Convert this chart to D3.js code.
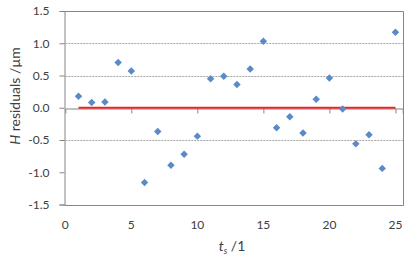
<!DOCTYPE html>
<html>
<head>
<meta charset="utf-8">
<script src="https://cdn.jsdelivr.net/npm/d3@7"></script>
<style>
  body { margin: 0; background: #fff; }
  text { font-family: Lato, "Open Sans", sans-serif; fill: #404040; }
</style>
</head>
<body>
<div id="chart"></div>
<script>
// measured residuals
var steps = [1, 2, 3, 4, 5, 6, 7, 8, 9, 10, 11, 12, 13, 14, 15, 16, 17, 18, 19, 20, 21, 22, 23, 24, 25];
var residuals = [0.18, 0.08, 0.09, 0.70, 0.57, -1.16, -0.37, -0.89, -0.72, -0.44, 0.45, 0.49, 0.36, 0.60, 1.03,
                 -0.31, -0.14, -0.39, 0.13, 0.46, -0.02, -0.56, -0.42, -0.94, 1.17];
var xTicks = [0, 5, 10, 15, 20, 25];
var yTicks = [-1.5, -1.0, -0.5, 0.0, 0.5, 1.0, 1.5];
var gridTicks = [1.0, 0.5, -0.5];
var zeroLine = [1, 25];

var W = 420, H = 258;
var svg = d3.select("#chart").append("svg")
    .attr("width", W)
    .attr("height", H);

var x = d3.scaleLinear().domain([0, 25.55]).range([65.3, 402.7]);
var y = d3.scaleLinear().domain([-1.5, 1.5]).range([204.5, 11]);

var axisColor = "#868686";

// gridlines
svg.selectAll(".grid")
    .data(gridTicks)
    .enter()
    .append("line")
    .attr("x1", x(0))
    .attr("x2", x(25.55))
    .attr("y1", function(d) { return Math.round(y(d)) + 0.5; })
    .attr("y2", function(d) { return Math.round(y(d)) + 0.5; })
    .style("stroke", "#a6a6a6")
    .style("stroke-width", "1px")
    .style("stroke-dasharray", "2,1");

// frame (top, right, bottom)
var x0 = Math.round(x(0)) - 0.5, x1 = Math.round(x(25.55)) + 0.5;
var yTop = Math.round(y(1.5)) + 0.5, yBot = Math.round(y(-1.5)) + 0.5;
svg.append("path")
    .attr("d", "M" + x0 + "," + yTop + "H" + x1 + "V" + yBot + "H" + x0)
    .style("fill", "none")
    .style("stroke", axisColor)
    .style("stroke-width", "1px");

// y axis
var yAxis = svg.append("g")
    .attr("transform", "translate(" + x0 + ",0)")
    .call(d3.axisLeft(y).tickValues(yTicks).tickSize(5).tickPadding(10)
        .tickFormat(d3.format(".1f")));
yAxis.select(".domain").style("stroke", axisColor);
yAxis.selectAll(".tick line").style("stroke", axisColor);
yAxis.selectAll(".tick text")
    .text(function(d) { return d3.format(".1f")(d).replace("−", "-"); })
    .style("font-size", "12px")
    .style("font-family", "Lato, sans-serif")
    .attr("fill", "#404040");

// x axis sits on y = 0
var yZero = Math.round(y(0)) + 0.5;
var xAxis = svg.append("g")
    .attr("transform", "translate(0," + yZero + ")")
    .call(d3.axisBottom(x).tickValues(xTicks.slice(1)).tickSize(5).tickFormat(""));
xAxis.select(".domain").style("stroke", axisColor);
xAxis.selectAll(".tick line").style("stroke", axisColor);

// x tick labels at bottom
svg.selectAll(".xlab")
    .data(xTicks)
    .enter()
    .append("text")
    .attr("x", function(d) { return x(d); })
    .attr("y", 229)
    .attr("text-anchor", "middle")
    .style("font-size", "12px")
    .text(function(d) { return d; });

// zero reference line
svg.append("line")
    .attr("x1", x(zeroLine[0]))
    .attr("x2", x(zeroLine[1]))
    .attr("y1", y(0))
    .attr("y2", y(0))
    .style("stroke", "#e8262a")
    .style("stroke-width", "2px");

// markers
var diamond = d3.symbol().type(d3.symbolSquare).size(28);
svg.selectAll(".pt")
    .data(steps)
    .enter()
    .append("path")
    .attr("d", diamond)
    .attr("transform", function(d, i) {
        return "translate(" + x(d) + "," + y(residuals[i]) + ") rotate(45)";
    })
    .style("fill", "#5b8ac9");

// axis titles
var yt = svg.append("text")
    .attr("transform", "translate(20,96) rotate(-90)")
    .attr("text-anchor", "middle")
    .style("font-size", "14px");
yt.append("tspan").style("font-style", "italic").text("H");
yt.append("tspan").text(" residuals /µm");

var xt = svg.append("text")
    .attr("x", 232)
    .attr("y", 251)
    .attr("text-anchor", "middle")
    .style("font-size", "14px");
xt.append("tspan").style("font-style", "italic").text("t");
xt.append("tspan").style("font-style", "italic").style("font-size", "9px").attr("dy", 3).text("s");
xt.append("tspan").attr("dy", -3).text(" /1");
</script>
</body>
</html>
